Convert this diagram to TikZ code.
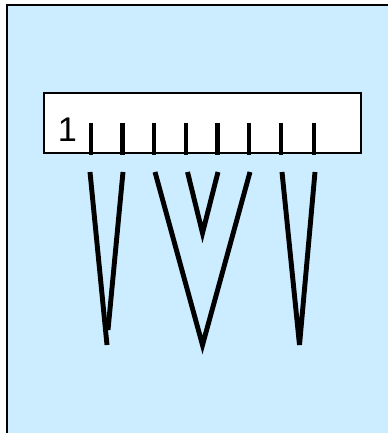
\documentclass[tikz,border=0pt]{standalone}
\usepackage{fontspec}
\setmainfont{Liberation Sans}
\definecolor{paleblue}{HTML}{CCECFF}
\begin{document}
\begin{tikzpicture}[x=0.02cm,y=-0.02cm]
\useasboundingbox (0,0) rectangle (388,433);
\fill[paleblue] (7,5) rectangle (390,435);
\draw[line width=1.2pt] (7,436) -- (7,5) -- (390,5);

\filldraw[fill=white,draw=black,line width=1.1pt] (44,93) rectangle (361,153);
\node (one) at (67.5,129.5) {\fontsize{19.5}{19.5}\selectfont 1};

\foreach \x in {91,122.5,154,186,217.5,249,281,314}
{
\draw[line width=2.8pt] (\x,123) -- (\x,155);
}

\draw[line width=2.8pt] (90,172) -- (107,345);
\draw[line width=2.8pt] (123,172) -- (108,330);
\draw[line width=2.8pt] (155,172) -- (202.5,345) -- (250,172);
\draw[line width=2.8pt] (187.5,172) -- (202.5,233) -- (218,172);
\draw[line width=2.8pt] (282,172) -- (299.5,345) -- (315,172);
\end{tikzpicture}
\end{document}
